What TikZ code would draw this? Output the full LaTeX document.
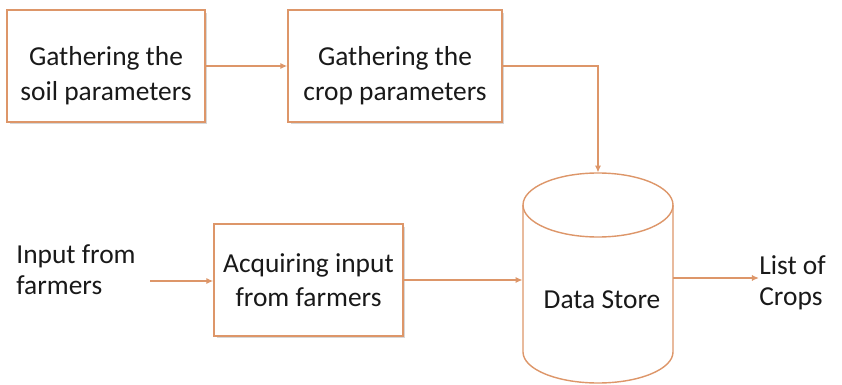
\documentclass[tikz,border=0pt]{standalone}
\usepackage{fontspec}
\setmainfont{Carlito}
\usetikzlibrary{arrows.meta,shadows}

\definecolor{lineorange}{RGB}{221,150,105}
\definecolor{textgray}{RGB}{25,25,25}

% taller first line, so the text sits a little low in the top boxes
\newcommand{\lowstrut}{\rule{0pt}{0.78cm}}

\tikzset{
  procbox/.style={draw=lineorange, line width=0.8pt, fill=white, align=center,
    drop shadow={shadow xshift=0.05cm, shadow yshift=-0.05cm, fill=gray!45, opacity=0.7},
    text=textgray, font=\fontsize{15.6}{19.9}\selectfont, minimum height=2.24cm},
  plaintext/.style={align=left, text=textgray, inner sep=0pt, font=\fontsize{15.6}{17.5}\selectfont},
  flow/.style={draw=lineorange, line width=0.8pt, -{Latex[length=4pt,width=3.5pt]}}
}

\begin{document}
\begin{tikzpicture}[x=0.02cm, y=-0.02cm]

\useasboundingbox (0,0) rectangle (842,385);

% process boxes
\node[procbox, minimum width=3.96cm] (soil) at (106,66) {\lowstrut Gathering the\\soil parameters};
\node[procbox, minimum width=4.28cm] (crop) at (395,66) {\lowstrut Gathering the\\crop parameters};
\node[procbox, minimum width=3.78cm, font=\fontsize{15.6}{19}\selectfont] (acquire) at (308.5,280) {Acquiring input\\from farmers};

% data store
\node[minimum width=3cm, minimum height=4.2cm, inner sep=0pt] (store) at (598,278) {};
\draw[lineorange, line width=0.8pt, fill=white]
  (523,205) -- (523,352) arc[start angle=180, end angle=360, x radius=75, y radius=-31]
  -- (673,205);
\draw[lineorange, line width=0.8pt] (598,205) ellipse[x radius=75, y radius=32];
\node[plaintext, align=center] (storetext) at (602,300) {Data Store};

% inputs and outputs
\node[plaintext] (input) at (76,270) {Input from\\farmers};
\coordinate (inputend) at (150,281);
\node[plaintext, anchor=west] (crops) at (759,283) {List of\\Crops};

% connectors
\draw[flow] (soil.east) -- (crop.west);
\draw[flow] (crop.east) -| (store.north);
\draw[flow] (inputend) -- (inputend -| acquire.west);
\draw[flow] (acquire.east) -- (acquire.east -| store.west);
\draw[flow] (store.east) -- (crops.west |- store.east);

\end{tikzpicture}
\end{document}
